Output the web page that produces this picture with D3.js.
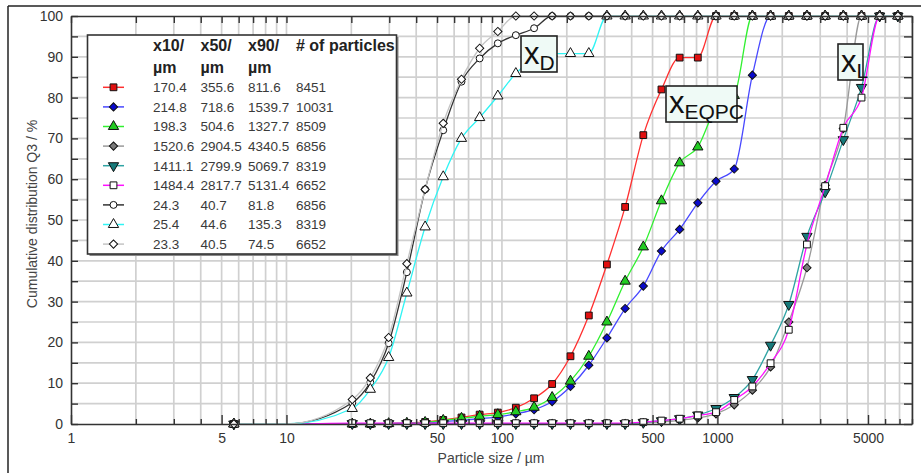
<!DOCTYPE html>
<html><head><meta charset="utf-8">
<script src="https://cdn.jsdelivr.net/npm/d3@7"></script>
<style>
body{margin:0;background:#fff;}
svg{display:block;font-family:Arial,"Liberation Sans",sans-serif;}
</style>
</head><body><svg id="c" width="921" height="473"></svg>
<script>
// ---------- data ----------
const sizes = [5.7, 10, 20.2, 24.5, 29.8, 36.2, 44.0, 53.4, 64.9, 78.8, 95.7, 116, 141, 171, 208, 253, 307, 373, 453, 550, 668, 811, 985, 1197, 1453, 1765, 2144, 2603, 3162, 3840, 4664, 5664, 6879];
const unmarkedSizes = [10];

const redEQPC   = [0,0, 0,0,0.1,0.2,0.5,1.0,1.6,2.3,2.8,4.0,6.3,9.8,16.6,26.6,39.1,53.2,70.8,82.0,89.8,89.8, 100,100,100,100,100,100,100,100,100,100,100];
const blueEQPC  = [0,0, 0,0,0.1,0.2,0.3,0.6,0.9,1.3,1.7,2.5,3.5,5.5,9.2,14.4,21.1,28.3,33.8,42.4,47.7,54.2,59.5,62.5,85.5, 100,100,100,100,100,100,100,100];
const greenEQPC = [0,0, 0,0,0.1,0.2,0.4,0.9,1.4,1.9,2.3,3.0,4.1,6.5,10.5,16.6,25.0,35.0,43.4,54.7,64.0,67.9,77.5,80.5, 100,100,100,100,100,100,100,100,100];
const greyL     = [0,0, 0.1,0.1,0.1,0.1,0.1,0.1,0.1,0.1,0.1,0.1,0.1,0.1,0.1,0.1,0.1,0.1, 0.3,0.5,0.9,1.5,2.5,4.7,8.3,14.0,25.0,38.3,58.5,72.4,100,100,100];
const tealL     = [0,0, 0.1,0.1,0.1,0.1,0.1,0.1,0.1,0.1,0.1,0.1,0.1,0.1,0.1,0.1,0.1,0.1, 0.4,0.8,1.3,2.2,3.8,6.5,10.9,19.3,29.3,46.0,56.9,69.7,82.5,100,100];
const magentaL  = [0,0, 0.2,0.2,0.2,0.2,0.2,0.2,0.2,0.2,0.2,0.2,0.2,0.2,0.2,0.2,0.2,0.2, 0.45,0.85,1.3,2.1,2.9,5.9,9.2,14.9,23.1,44.0,58.3,72.6,80.0,100,100];
const blackD    = [0,0, 5.2,10.2,19.8,37.2,57.5,72.0,83.9,89.6,93.3,95.3,97.0, 100,100,100,100,100,100,100,100,100,100,100,100,100,100,100,100,100,100,100,100];
const cyanD     = [0,0, 3.8,8.5,16.3,32.1,48.3,60.6,70.0,75.1,80.4,85.9,89.5,90.8,90.8,90.8, 100,100,100,100,100,100,100,100,100,100,100,100,100,100,100,100,100];
const lgreyD    = [0,0, 6.0,11.3,21.2,39.3,57.5,73.7,84.5,92.1,96.2, 100,100,100,100,100,100,100,100,100,100,100,100,100,100,100,100,100,100,100,100,100,100];

const tableX10 = ["170.4","214.8","198.3","1520.6","1411.1","1484.4","24.3","25.4","23.3"];
const tableX50 = ["355.6","718.6","504.6","2904.5","2799.9","2817.7","40.7","44.6","40.5"];
const tableX90 = ["811.6","1539.7","1327.7","4340.5","5069.7","5131.4","81.8","135.3","74.5"];
const tableN   = ["8451","10031","8509","6856","8319","6652","6856","8319","6652"];
const tableHead1 = ["x10/","x50/","x90/","# of particles"];
const tableHead2 = ["µm","µm","µm",""];

const xTickLabels = [1,5,10,50,100,500,1000,5000];
const xLabel = "Particle size / µm";
const yLabel = "Cumulative distribution Q3 / %";

// ---------- styles ----------
const seriesDefs = [
  {vals: redEQPC,   line:"#ff3030", fill:"#e01010", shape:"square"},
  {vals: blueEQPC,  line:"#4848ff", fill:"#0a0acc", shape:"diamond"},
  {vals: greenEQPC, line:"#30f030", fill:"#22cc22", shape:"triangle"},
  {vals: greyL,     line:"#9a9a9a", fill:"#7a7a7a", shape:"diamond"},
  {vals: tealL,     line:"#30a4a4", fill:"#167a7a", shape:"triangleDown"},
  {vals: magentaL,  line:"#ff10ff", fill:"#ffffff", shape:"square"},
  {vals: blackD,    line:"#333333", fill:"#ffffff", shape:"circle"},
  {vals: cyanD,     line:"#30f4f4", fill:"#ffffff", shape:"triangle"},
  {vals: lgreyD,    line:"#c4c4c4", fill:"#ffffff", shape:"diamond"}
];

const svg = d3.select("#c");
const W = 921, H = 473;
const L = 71, R = 912, T = 16, B = 424;
const x = d3.scaleLog().domain([1, 8000]).range([L, R]);
const y = d3.scaleLinear().domain([0, 100]).range([B, T]);

// outer frame (left + top)
svg.append("line").attr("x1",8).attr("x2",8).attr("y1",6).attr("y2",H).attr("stroke","#222").attr("stroke-width",1.5);
svg.append("line").attr("x1",8).attr("x2",W).attr("y1",6).attr("y2",6).attr("stroke","#222").attr("stroke-width",1.5);

// minor log values
const minors = [];
[1,10,100,1000].forEach(d => { for (let m=1;m<=9;m++){ const v=d*m; if (v<=8000) minors.push(v);} });

// grid
const grid = svg.append("g");
grid.selectAll("line.v").data(minors.filter(v=>v>1)).enter().append("line")
  .attr("x1",d=>x(d)).attr("x2",d=>x(d)).attr("y1",T).attr("y2",B)
  .attr("stroke","#d0d0d0").attr("stroke-width",1.7);
grid.selectAll("line.h").data(d3.range(5,100,5)).enter().append("line")
  .attr("x1",L).attr("x2",R).attr("y1",d=>y(d)).attr("y2",d=>y(d))
  .attr("stroke","#d0d0d0").attr("stroke-width",1.7);

// series
const symType = {square:d3.symbolSquare, diamond:d3.symbolSquare, triangle:d3.symbolTriangle, triangleDown:d3.symbolTriangle, circle:d3.symbolCircle};
const symSize = {square:46, diamond:34, triangle:46, triangleDown:46, circle:38};
const symRot = {square:0, diamond:45, triangle:0, triangleDown:180, circle:0};
function symPath(shape){ return d3.symbol().type(symType[shape]).size(symSize[shape])(); }
function symTf(shape, cx, cy){ return `translate(${cx},${cy})` + (symRot[shape] ? ` rotate(${symRot[shape]})` : ""); }

const lineGen = d3.line().x(d=>x(d[0])).y(d=>y(d[1])).curve(d3.curveMonotoneX);
const sg = svg.append("g");
seriesDefs.forEach(s => {
  const pts = sizes.map((sz,i)=>[sz, s.vals[i]]);
  sg.append("path").attr("d", lineGen(pts)).attr("fill","none").attr("stroke", s.line).attr("stroke-width",1.3);
  sg.append("g").selectAll("path").data(pts.filter(p=>!unmarkedSizes.includes(p[0]))).enter().append("path")
    .attr("d", symPath(s.shape))
    .attr("transform", p => symTf(s.shape, x(p[0]), y(p[1])))
    .attr("fill", s.fill).attr("stroke","#111").attr("stroke-width",1);
});

// axes
function styleAxis(g){
  g.select(".domain").attr("stroke","#333").attr("stroke-width",1.6);
  g.selectAll(".tick line").attr("stroke","#333").attr("stroke-width",1.4);
  g.selectAll("text").attr("font-family","Arial, 'Liberation Sans', sans-serif").attr("font-size",14).attr("fill","#333");
}
const gb = svg.append("g").attr("transform",`translate(0,${B})`)
  .call(d3.axisBottom(x).tickValues(minors).tickSizeInner(-5).tickSizeOuter(0).tickPadding(9)
        .tickFormat(d => xTickLabels.includes(d) ? String(d) : ""));
gb.selectAll(".tick line").attr("y2", d => xTickLabels.includes(d) ? -9 : -5);
styleAxis(gb);
const gt = svg.append("g").attr("transform",`translate(0,${T})`)
  .call(d3.axisTop(x).tickValues(minors).tickSizeInner(-7).tickSizeOuter(0).tickFormat(""));
styleAxis(gt);
const gl = svg.append("g").attr("transform",`translate(${L},0)`)
  .call(d3.axisLeft(y).tickValues(d3.range(0,101,5)).tickSizeInner(-7).tickSizeOuter(0).tickPadding(8)
        .tickFormat(d => d%10===0 ? String(d) : ""));
styleAxis(gl);
const gr = svg.append("g").attr("transform",`translate(${R},0)`)
  .call(d3.axisRight(y).tickValues(d3.range(0,101,5)).tickSizeInner(-8).tickSizeOuter(0).tickFormat(""));
styleAxis(gr);

// axis titles
svg.append("text").attr("x",491).attr("y",463).attr("text-anchor","middle").attr("font-size",14).attr("fill","#444").text(xLabel);
svg.append("text").attr("transform","translate(37,214) rotate(-90)").attr("text-anchor","middle").attr("font-size",14).attr("fill","#444").text(yLabel);

// annotation boxes
function annot(bx, by, bw, bh, sub, xBase, subBase){
  const g = svg.append("g");
  g.append("rect").attr("x",bx).attr("y",by).attr("width",bw).attr("height",bh)
    .attr("fill","#effaf6").attr("stroke","#222").attr("stroke-width",1.6);
  const t = g.append("text").attr("x",bx+3).attr("y",xBase).attr("fill","#111");
  t.append("tspan").attr("font-size",31).text("x");
  t.append("tspan").attr("font-size",21).attr("dy",subBase-xBase).text(sub);
}
annot(521, 36, 36, 36, "D", 64, 70);
annot(666, 86, 71, 36, "EQPC", 113, 119);
annot(838, 44, 25, 36, "L", 71.5, 78);

// legend table
const lg = svg.append("g");
lg.append("rect").attr("x",89.5).attr("y",37).attr("width",309).attr("height",219).attr("fill","#888");
lg.append("rect").attr("x",87.5).attr("y",35).attr("width",309).attr("height",219).attr("fill","#fff").attr("stroke","#333").attr("stroke-width",1.6);
const colX = [153, 200.5, 248, 296];
tableHead1.forEach((h,i)=> lg.append("text").attr("x",colX[i]).attr("y",51).attr("font-size",16).attr("font-weight","bold").attr("fill","#222").text(h));
tableHead2.forEach((h,i)=> lg.append("text").attr("x",colX[i]).attr("y",73).attr("font-size",16).attr("font-weight","bold").attr("fill","#222").text(h));
seriesDefs.forEach((s,i)=>{
  const cy = 87.3 + 19.6*i;
  lg.append("line").attr("x1",103).attr("x2",124).attr("y1",cy).attr("y2",cy).attr("stroke",s.line).attr("stroke-width",1.5);
  lg.append("path").attr("d", symPath(s.shape))
    .attr("transform", symTf(s.shape, 113.5, cy))
    .attr("fill", s.fill).attr("stroke","#111").attr("stroke-width",1);
  [tableX10[i], tableX50[i], tableX90[i], tableN[i]].forEach((v,j)=>
    lg.append("text").attr("x",colX[j]).attr("y",cy+4.8).attr("font-size",13.5).attr("fill","#3a3a3a").text(v));
});
</script></body></html>
